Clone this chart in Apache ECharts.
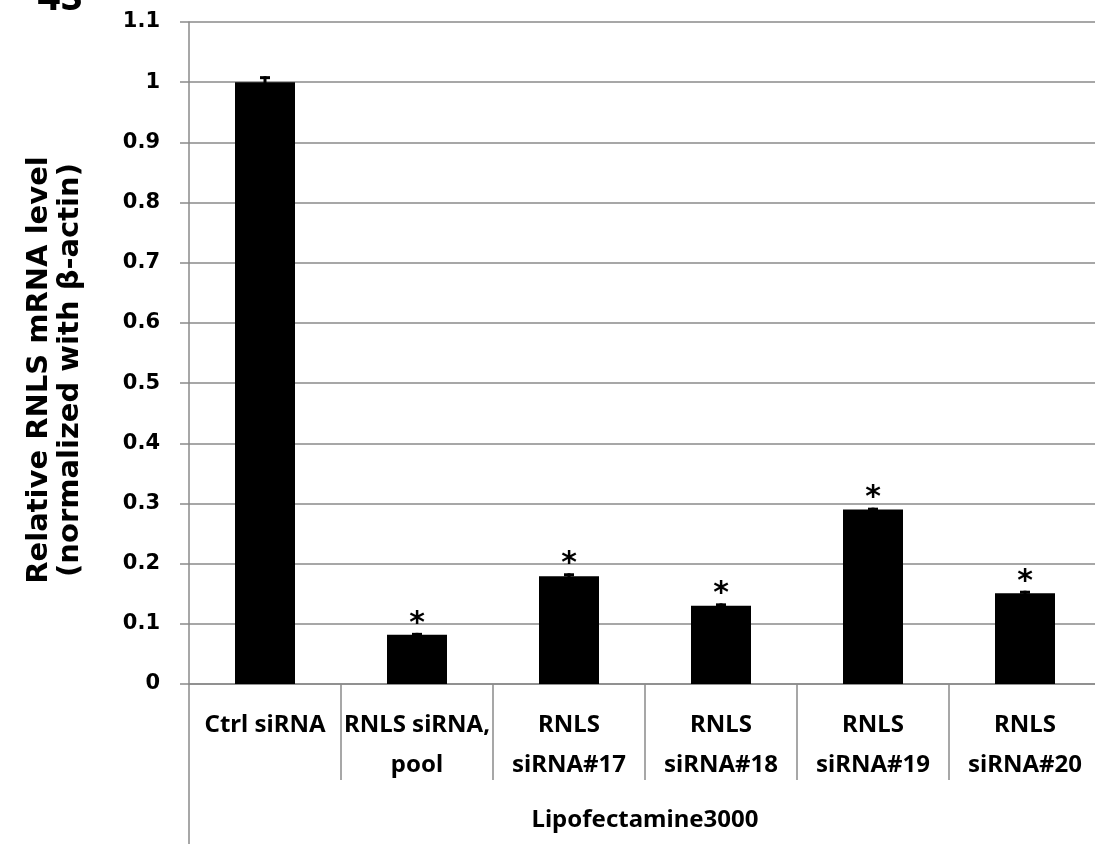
<!DOCTYPE html>
<html>
<head>
<meta charset="utf-8">
<script src="https://cdn.jsdelivr.net/npm/echarts@6/dist/echarts.min.js"></script>
<style>
html,body{margin:0;padding:0;background:#fff;overflow:hidden;}
#chart{width:1095px;height:844px;}
</style>
</head>
<body>
<div id="chart"></div>
<script>
// ---- data ----
var categories = ['Ctrl siRNA', 'RNLS siRNA,\npool', 'RNLS\nsiRNA#17', 'RNLS\nsiRNA#18', 'RNLS\nsiRNA#19', 'RNLS\nsiRNA#20'];
var groupLabel = ['Lipofectamine3000'];
var values = [1.0, 0.082, 0.179, 0.130, 0.290, 0.151];
var errors = [0.010, 0.003, 0.005, 0.004, 0.003, 0.004];
var significance = ['', '*', '*', '*', '*', '*'];
var yTickLabels = ['0', '0.1', '0.2', '0.3', '0.4', '0.5', '0.6', '0.7', '0.8', '0.9', '1', '1.1'];
var yTitle = 'Relative RNLS mRNA level\n(normalized with \u03b2-actin)';
var panelLabel = '4S';

var GRAY = '#8a8a8a';
var FONT = '"Noto Sans", "Open Sans", sans-serif';

var errData = values.map(function (v, i) { return [i, v, errors[i], significance[i]]; });

var chart = echarts.init(document.getElementById('chart'), null, { renderer: 'canvas' });

var option = {
  backgroundColor: '#ffffff',
  animation: false,
  grid: { left: 189, width: 912, top: 22, height: 662, containLabel: false, outerBoundsMode: 'none' },
  xAxis: [
    {
      type: 'category',
      data: categories,
      position: 'bottom',
      axisLine: { show: true, lineStyle: { color: GRAY, width: 1.5 } },
      axisTick: { show: true, length: 96, lineStyle: { color: GRAY, width: 1.5 } },
      axisLabel: {
        interval: 0, margin: 21, color: '#000', fontFamily: FONT, fontWeight: 'bold',
        fontSize: 24, lineHeight: 40, verticalAlign: 'top'
      },
      splitLine: { show: false }
    },
    {
      type: 'category',
      data: groupLabel,
      position: 'bottom',
      axisLine: { show: false },
      axisTick: { show: true, length: 170, lineStyle: { color: GRAY, width: 1.5 } },
      axisLabel: {
        interval: 0, margin: 121, color: '#000', fontFamily: FONT, fontWeight: 'bold',
        fontSize: 24, lineHeight: 30, verticalAlign: 'top'
      },
      splitLine: { show: false }
    }
  ],
  yAxis: {
    type: 'value', min: 0, max: 1.1, interval: 0.1,
    axisLine: { show: true, lineStyle: { color: GRAY, width: 1.5 } },
    axisTick: { show: true, length: 9, lineStyle: { color: GRAY, width: 1.5 } },
    splitLine: { show: true, lineStyle: { color: GRAY, width: 1.5 } },
    axisLabel: {
      margin: 29, color: '#000', fontFamily: '"DejaVu Sans", sans-serif', fontWeight: 'bold', fontSize: 21,
      formatter: function (v) { return yTickLabels[Math.round(v * 10)]; }
    }
  },
  graphic: [
    {
      type: 'text', rotation: Math.PI / 2, x: 55, y: 370,
      style: {
        text: yTitle, align: 'center', verticalAlign: 'middle',
        font: 'bold 29px "DejaVu Sans", sans-serif', lineHeight: 31, fill: '#000'
      }
    },
    {
      type: 'text', x: 60, y: 19,
      style: {
        text: panelLabel, align: 'center', verticalAlign: 'bottom',
        font: 'bold 40px "Noto Sans", sans-serif', fill: '#000'
      }
    }
  ],
  series: [
    {
      type: 'bar',
      data: values,
      barWidth: 60,
      itemStyle: { color: '#000' },
      silent: true
    },
    {
      type: 'custom',
      data: errData,
      silent: true,
      renderItem: function (params, api) {
        var i = api.value(0), v = api.value(1), e = api.value(2);
        var top = api.coord([i, v + e]);
        var bot = api.coord([i, v - e]);
        var cx = top[0];
        var children = [
          { type: 'line', shape: { x1: cx, y1: top[1], x2: cx, y2: bot[1] }, style: { stroke: '#000', lineWidth: 3 } },
          { type: 'line', shape: { x1: cx - 5, y1: top[1] + 1.5, x2: cx + 5, y2: top[1] + 1.5 }, style: { stroke: '#000', lineWidth: 3 } }
        ];
        var sig = significance[params.dataIndex];
        if (sig) {
          children.push({
            type: 'text',
            x: cx, y: top[1] + 6,
            style: {
              text: sig, align: 'center', verticalAlign: 'bottom',
              font: 'bold 30px "DejaVu Sans", sans-serif', fill: '#000'
            }
          });
        }
        return { type: 'group', children: children };
      }
    }
  ]
};
chart.setOption(option);
</script>
</body>
</html>
